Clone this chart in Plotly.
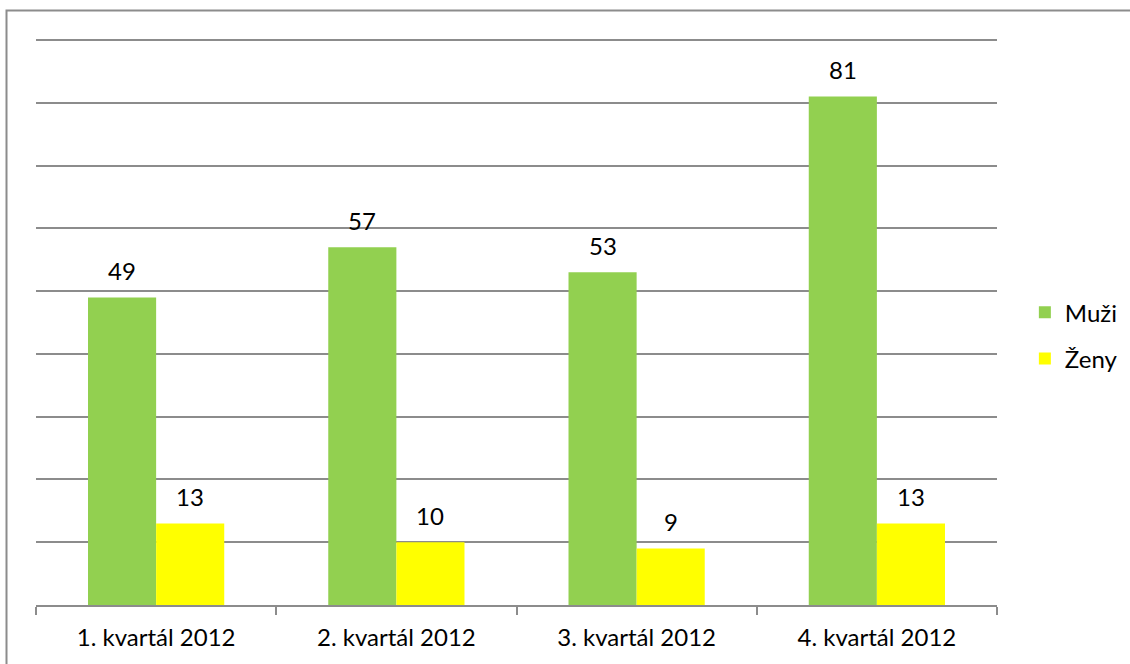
import plotly.graph_objects as go

categories = ["1. kvartál 2012", "2. kvartál 2012", "3. kvartál 2012", "4. kvartál 2012"]
muzi = [49, 57, 53, 81]
zeny = [13, 10, 9, 13]
series_names = ["Muži", "Ženy"]
colors = ["#92D050", "#FFFF00"]

FONT = "Lato"
FS = 24
GRAY = "#8c8c8c"

fig = go.Figure()
for name, vals, col in zip(series_names, [muzi, zeny], colors):
    fig.add_trace(go.Bar(
        x=categories, y=vals, name=name, marker_color=col,
        marker_line_width=0, legendgroup=name,
    ))

# value labels above bars
for vals, shift in [(muzi, -34), (zeny, 34)]:
    for c, v in zip(categories, vals):
        fig.add_annotation(x=c, y=v, text=str(v), showarrow=False,
                           xshift=shift, yshift=27,
                           font=dict(family=FONT, size=FS, color="#000"))

fig.update_layout(
    width=1130, height=664,
    margin=dict(l=36, r=133, t=37, b=59, autoexpand=False),
    paper_bgcolor="white", plot_bgcolor="white",
    barmode="group", bargap=0.433, bargroupgap=0,
    font=dict(family=FONT, size=FS, color="#000"),
    legend=dict(x=1.029, y=0.474, xanchor="left", yanchor="middle",
                font=dict(family=FONT, size=FS), tracegroupgap=12,
                itemwidth=30),
    showlegend=True,
    xaxis=dict(showgrid=False, showline=True, linecolor=GRAY, linewidth=2,
               ticks="outside", ticklen=8, tickcolor=GRAY, tickwidth=2,
               tickson="boundaries", tickfont=dict(family=FONT, size=FS),
               ticklabelstandoff=10, automargin=False),
    yaxis=dict(range=[0, 90.5], tickvals=[10, 20, 30, 40, 50, 60, 70, 80, 90],
               showgrid=True, gridcolor=GRAY,
               gridwidth=2, showticklabels=False, zeroline=False,
               showline=False, automargin=False),
)

# outer chart border
fig.add_shape(type="rect", xref="paper", yref="paper",
              x0=(6.5 - 36) / 961, x1=1.2, y0=-0.3, y1=(605 - 10.5) / 568,
              line=dict(color=GRAY, width=2), fillcolor="rgba(0,0,0,0)",
              layer="below")

fig.write_html("out.html", config={"displayModeBar": False})

# remove default browser body margin so the figure sits at the window origin
with open("out.html", encoding="utf-8") as f:
    html = f.read()
html = html.replace("<body>", '<body style="margin:0;padding:0;">', 1)
with open("out.html", "w", encoding="utf-8") as f:
    f.write(html)
